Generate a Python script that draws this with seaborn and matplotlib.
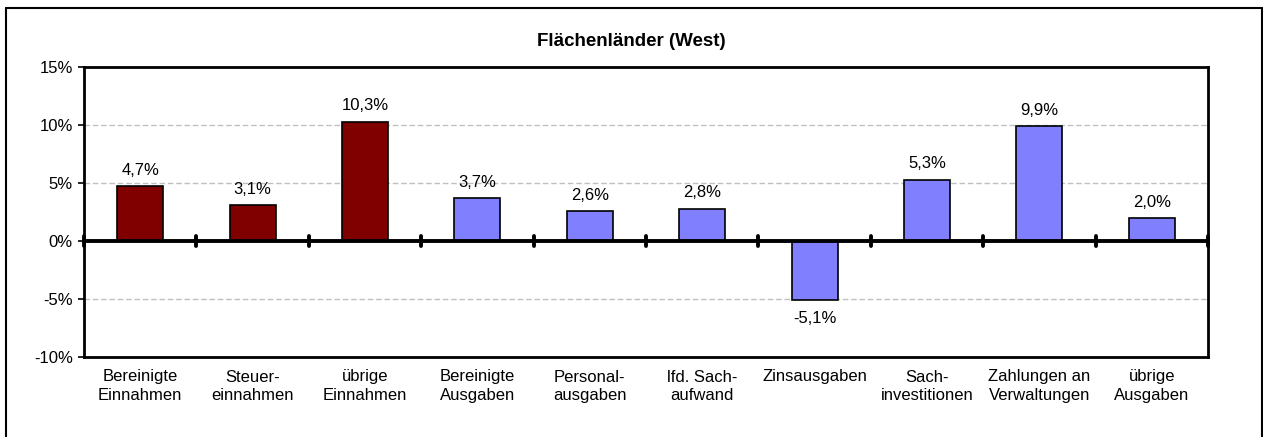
import matplotlib
matplotlib.use("Agg")
import matplotlib.pyplot as plt
from matplotlib.lines import Line2D
import pandas as pd
import seaborn as sns

categories = [
    "Bereinigte\nEinnahmen", "Steuer-\neinnahmen", "übrige\nEinnahmen",
    "Bereinigte\nAusgaben", "Personal-\nausgaben", "lfd. Sach-\naufwand",
    "Zinsausgaben", "Sach-\ninvestitionen", "Zahlungen an\nVerwaltungen",
    "übrige\nAusgaben",
]
values = [4.7, 3.1, 10.3, 3.7, 2.6, 2.8, -5.1, 5.3, 9.9, 2.0]
groups = ["Einnahmen"] * 3 + ["Ausgaben"] * 7
colors = {"Einnahmen": "#800000", "Ausgaben": "#8080FF"}
y_ticks = [-10, -5, 0, 5, 10, 15]

sns.set_style("white")
plt.rcParams["font.family"] = ["Liberation Sans", "DejaVu Sans"]
plt.rcParams["text.color"] = "black"
plt.rcParams["xtick.color"] = "black"
plt.rcParams["ytick.color"] = "black"

df = pd.DataFrame({"cat": categories, "val": values, "grp": groups})

W, H = 1263, 437
fig = plt.figure(figsize=(W / 100, H / 100), dpi=100)
ax = fig.add_axes([84 / W, 1 - 357 / H, (1208 - 84) / W, (357 - 67) / H])

sns.barplot(data=df, x="cat", y="val", hue="grp", palette=colors, dodge=False,
            width=0.41, saturation=1, edgecolor="black", linewidth=1.2,
            legend=False, ax=ax)

ax.set_ylim(-10, 15)
ax.set_xlim(-0.5, len(categories) - 0.5)
ax.set_yticks(y_ticks)
ax.set_yticklabels([f"{t}%" for t in y_ticks])
ax.set_xlabel("")
ax.set_ylabel("")
for y in [-5, 5, 10]:
    ax.axhline(y, color="#c0c0c0", linestyle=(0, (4, 2)), linewidth=1, zorder=0)
ax.axhline(0, color="black", linewidth=2.8, zorder=3)
for i in range(len(categories) + 1):
    ax.plot([i - 0.5, i - 0.5], [-0.4, 0.4], color="black", linewidth=2.8,
            zorder=3, clip_on=False)

for s in ax.spines.values():
    s.set_color("black")
    s.set_linewidth(2)
ax.tick_params(axis="y", length=4, width=1.2, labelsize=12, pad=4, left=True)
ax.tick_params(axis="x", length=0, labelsize=12, pad=9)
for lbl in ax.get_xticklabels():
    lbl.set_linespacing(1.3)

for i, v in enumerate(values):
    label = f"{v:.1f}%".replace(".", ",")
    if v >= 0:
        ax.text(i, v + 0.7, label, ha="center", va="bottom", fontsize=12)
    else:
        ax.text(i, v - 0.9, label, ha="center", va="top", fontsize=12)

fig.text(0.5, 1 - 42 / H, "Flächenländer (West)", ha="center", va="center",
         fontsize=13.5, fontweight="bold")

# outer chart frame (bottom edge lies outside the image)
x0, x1, y_top = 5.5 / W, 1261.5 / W, 1 - 7.5 / H
for xs, ys in [([x0, x0], [0, y_top]), ([x0, x1], [y_top, y_top]), ([x1, x1], [0, y_top])]:
    fig.add_artist(Line2D(xs, ys, transform=fig.transFigure, color="black", linewidth=1.5))

fig.savefig("out.png", dpi=100)
plt.close(fig)
